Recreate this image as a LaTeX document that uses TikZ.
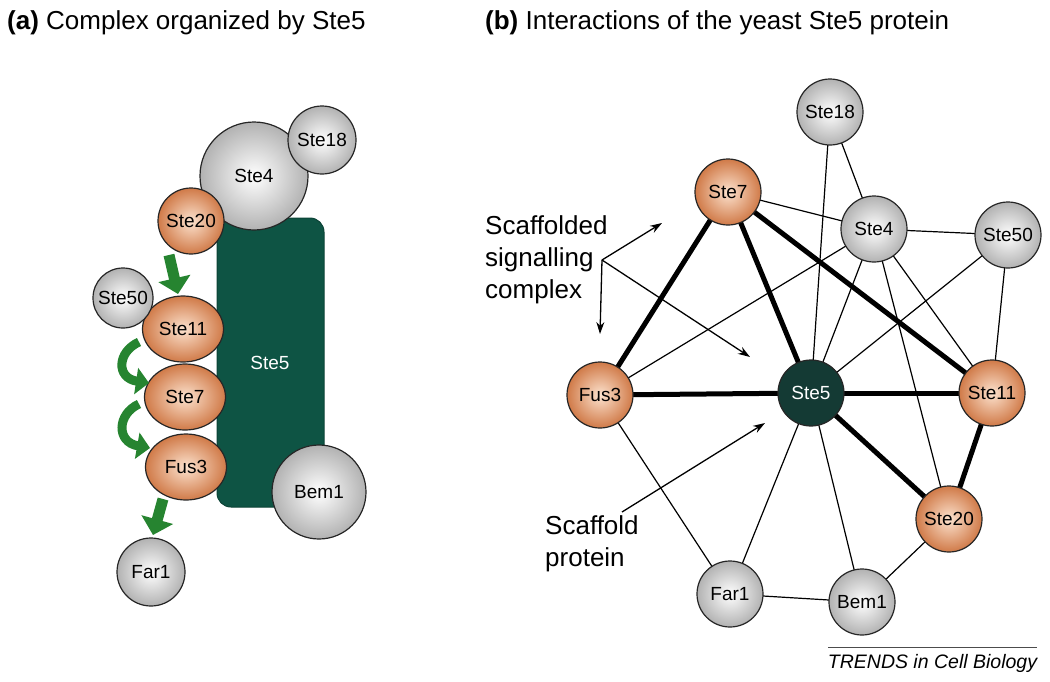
\documentclass[tikz,border=0pt]{standalone}
\usepackage{fontspec}
\setmainfont{Liberation Sans}
\usetikzlibrary{arrows.meta,shapes.geometric}
\definecolor{ste5green}{RGB}{14,84,68}
\definecolor{ste5dark}{RGB}{20,58,52}
\definecolor{orgout}{RGB}{208,122,72}
\definecolor{orgin}{RGB}{252,226,206}
\definecolor{gryout}{RGB}{178,178,178}
\definecolor{gryin}{RGB}{255,255,255}
\definecolor{arrgreen}{RGB}{38,132,48}
\begin{document}
\begin{tikzpicture}[x=1pt,y=-1pt,
  prot/.style={circle, draw=black!85, line width=1.2pt, inner sep=0pt, font=\fontsize{19}{22}\selectfont},
  grey/.style={prot, inner color=gryin, outer color=gryout},
  orng/.style={prot, inner color=orgin, outer color=orgout},
  oell/.style={ellipse, draw=black!85, line width=1.2pt, inner sep=0pt, inner color=orgin, outer color=orgout, font=\fontsize{19}{22}\selectfont, minimum width=81pt, minimum height=66pt},
  garrow/.style={draw=arrgreen, line width=11pt, -{Triangle[width=32pt,length=16pt]}},
  gcurve/.style={draw=arrgreen, line width=9pt, -{Triangle[width=26pt,length=13pt]}},
  thick edge/.style={line width=5pt, draw=black},
  thin edge/.style={line width=1.2pt, draw=black},
  pointer/.style={line width=1.3pt, draw=black, -{Stealth[length=12pt,width=8pt]}},
  title/.style={anchor=west, inner sep=0pt, font=\fontsize{26}{32}\selectfont},
  label/.style={anchor=west, inner sep=0pt, align=left, font=\fontsize{26}{32}\selectfont}
]
\useasboundingbox (0,0) rectangle (1050,681);

% ---------- Titles ----------
\node[title] (ta) at (7,23) {\textbf{(a)} Complex organized by Ste5};
\node[title] (tb) at (485,23) {\textbf{(b)} Interactions of the yeast Ste5 protein};

% ---------- Panel (a) ----------
\node[rectangle, rounded corners=14pt, fill=ste5green, draw=ste5green!80!black, line width=1pt,
      minimum width=107pt, minimum height=289pt, inner sep=0pt] (ste5a) at (270.5,362.5) {};
\node[text=white, font=\fontsize{19}{22}\selectfont, inner sep=0pt] (ste5alabel) at (270,363) {Ste5};
\node[grey, minimum size=108pt] (ste4a) at (254,176) {Ste4};
\node[grey, minimum size=68pt] (ste18a) at (322,140) {Ste18};
\node[orng, minimum size=66pt] (ste20a) at (191,221) {Ste20};
\node[oell] (ste11a) at (183,329) {Ste11};
\node[grey, minimum size=60pt] (ste50a) at (123,298) {Ste50};
\node[oell] (ste7a) at (185,397) {Ste7};
\node[oell] (fus3a) at (186,467) {Fus3};
\node[grey, minimum size=94pt] (bem1a) at (319,492) {Bem1};
\node[grey, minimum size=68pt] (far1a) at (151,572) {Far1};

\coordinate (g1s) at (169,255);
\coordinate (g1e) at (178,294);
\draw[garrow] (g1s) -- (g1e);
\coordinate (g2s) at (139,342);
\coordinate (g2e) at (149,383);
\draw[gcurve] (g2s) .. controls (117,352) and (116,378) .. (g2e);
\coordinate (g3s) at (139,404);
\coordinate (g3e) at (150,448);
\draw[gcurve] (g3s) .. controls (117,414) and (116,442) .. (g3e);
\coordinate (g4s) at (163,499);
\coordinate (g4e) at (153,535);
\draw[garrow] (g4s) -- (g4e);

% ---------- Panel (b) ----------
\coordinate (c18) at (830,112);
\coordinate (c7) at (728,192);
\coordinate (c4) at (874,229);
\coordinate (c50) at (1008,235);
\coordinate (cf3) at (600,395);
\coordinate (c5) at (811,393);
\coordinate (c11) at (992,393);
\coordinate (c20) at (949,519);
\coordinate (cfar) at (730,594);
\coordinate (cbem) at (862,602);

% thin edges
\draw[thin edge] (c18) -- (c5);
\draw[thin edge] (c18) -- (c4);
\draw[thin edge] (c7) -- (c4);
\draw[thin edge] (c4) -- (c50);
\draw[thin edge] (c4) -- (cf3);
\draw[thin edge] (c4) -- (c5);
\draw[thin edge] (c4) -- (c20);
\draw[thin edge] (c4) -- (c11);
\draw[thin edge] (c50) -- (c5);
\draw[thin edge] (c50) -- (c11);
\draw[thin edge] (cf3) -- (cfar);
\draw[thin edge] (c5) -- (cfar);
\draw[thin edge] (c5) -- (cbem);
\draw[thin edge] (cfar) -- (cbem);
\draw[thin edge] (cbem) -- (c20);
% thick edges
\draw[thick edge] (c7) -- (cf3);
\draw[thick edge] (c7) -- (c5);
\draw[thick edge] (c7) -- (c11);
\draw[thick edge] (cf3) -- (c5);
\draw[thick edge] (c5) -- (c11);
\draw[thick edge] (c5) -- (c20);
\draw[thick edge] (c11) -- (c20);

\node[grey, minimum size=66pt] (ste18b) at (c18) {Ste18};
\node[orng, minimum size=66pt] (ste7b) at (c7) {Ste7};
\node[grey, minimum size=66pt] (ste4b) at (c4) {Ste4};
\node[grey, minimum size=66pt] (ste50b) at (c50) {Ste50};
\node[orng, minimum size=66pt] (fus3b) at (cf3) {Fus3};
\node[prot, fill=ste5dark, text=white, minimum size=66pt] (ste5b) at (c5) {Ste5};
\node[orng, minimum size=66pt] (ste11b) at (c11) {Ste11};
\node[orng, minimum size=66pt] (ste20b) at (c20) {Ste20};
\node[grey, minimum size=66pt] (far1b) at (cfar) {Far1};
\node[grey, minimum size=66pt] (bem1b) at (cbem) {Bem1};

% annotations
\node[label] (lsc) at (485,260) {Scaffolded\\signalling\\complex};
\coordinate (jn) at (602,260);
\coordinate (t1) at (662,223);
\coordinate (t2) at (600,334);
\coordinate (t3) at (750,357);
\draw[pointer] (jn) -- (t1);
\draw[pointer] (jn) -- (t2);
\draw[pointer] (jn) -- (t3);
\node[label] (lsp) at (545,544) {Scaffold\\protein};
\coordinate (sps) at (622,512);
\coordinate (spe) at (765,423);
\draw[pointer] (sps) -- (spe);

% credit
\coordinate (cr1) at (828,647);
\coordinate (cr2) at (1037,647);
\draw[line width=0.9pt, black!70] (cr1) -- (cr2);
\node[inner sep=0pt, font=\fontsize{19.5}{22}\selectfont\itshape] (credit) at (932.5,663) {TRENDS in Cell Biology};
\end{tikzpicture}
\end{document}
